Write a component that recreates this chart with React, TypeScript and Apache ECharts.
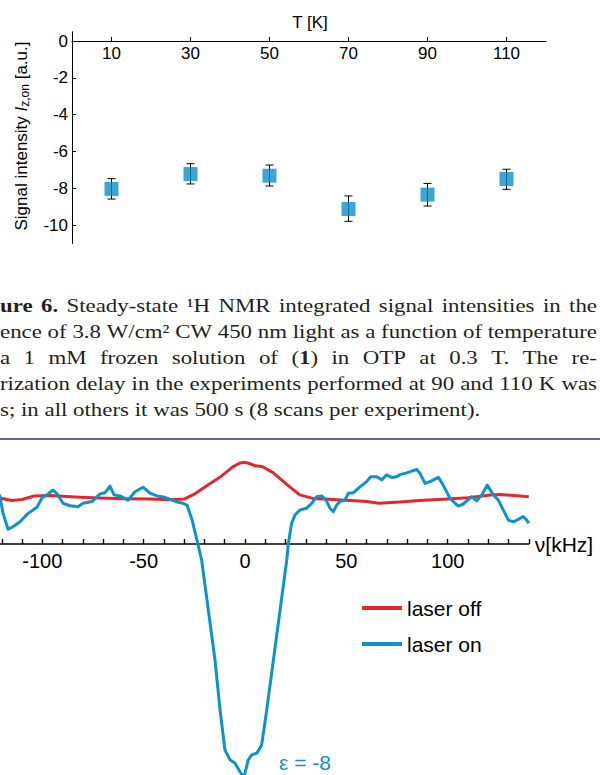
import React, { useEffect, useRef } from 'react';
import * as echarts from 'echarts';

// ---------- top panel: signal intensity vs temperature ----------
const temperatures = [10, 30, 50, 70, 90, 110];
const signalMean = [-8.04, -7.23, -7.32, -9.13, -8.35, -7.5];
const signalHigh = [-7.48, -6.67, -6.74, -8.42, -7.74, -6.97];
const signalLow = [-8.59, -7.77, -7.88, -9.8, -8.97, -8.06];
const tempTicks = [10, 30, 50, 70, 90, 110];
const intensityTicks = [-10, -8, -6, -4, -2, 0];

// ---------- caption ----------
const captionLines = [
  '**ure** **6.** Steady-state ¹H NMR integrated signal intensities in the',
  'ence of 3.8 W/cm² CW 450 nm light as a function of temperature',
  'a 1 mM frozen solution of (**1**) in OTP at 0.3 T. The re-',
  'rization delay in the experiments performed at 90 and 110 K was',
  's; in all others it was 500 s (8 scans per experiment).',
];
const captionJustified = [true, false, true, true, false];

// ---------- bottom panel: spectra ----------
const laserOffFreq = [-121, -115, -110, -104, -96, -84, -72, -59, -47, -37, -30, -25, -22, -17, -12, -6, -2.5, 0, 2.5, 5, 8.5, 14, 21, 27, 33.5, 43.5, 52, 60, 66, 76.5, 86, 100, 110, 121, 126, 140];
const laserOffSignal = [-0.03, -0.1, -0.07, 0.03, 0.04, 0.0, -0.03, -0.05, -0.06, -0.08, -0.06, 0.08, 0.2, 0.39, 0.58, 0.86, 0.97, 0.99, 0.95, 0.89, 0.87, 0.69, 0.34, 0.06, -0.04, -0.07, -0.1, -0.13, -0.18, -0.14, -0.1, -0.06, -0.02, 0.06, 0.07, 0.01];

const laserOnFreq = [-122, -120.9, -119.4, -116.9, -114.5, -111, -107.5, -104.6, -102.6, -100.1, -97.7, -94.7, -92.7, -89.8, -86.3, -82.4, -79.9, -75.5, -71.5, -69.1, -66.6, -64.6, -61.7, -57.7, -54.3, -50.3, -46.9, -43.4, -39.5, -36, -33.1, -30.6, -28.6, -26.1, -23.7, -21.4, -18.1, -14.8, -12.3, -9.9, -7.4, -4.9, -2.5, -0.7, 0, 1.6, 3.3, 5.8, 8.2, 10.7, 14, 17.3, 20.6, 21.4, 23, 24.7, 27.1, 30.4, 32.9, 35.4, 37.8, 40, 41.9, 43.6, 45.2, 46.9, 49.3, 51, 53.4, 56.7, 60, 62, 65, 67.4, 69.9, 72.4, 74.8, 76.5, 79.8, 84.7, 86.3, 88.8, 91.3, 95.4, 97.8, 101.1, 105.2, 107.7, 111.8, 114.3, 116.8, 119.5, 122.5, 125, 127.4, 129.9, 132.4, 134.8, 137.3, 139, 140];
const laserOnSignal = [0.15, 0.01, -0.46, -0.92, -0.85, -0.71, -0.49, -0.37, -0.29, -0.02, 0.06, 0.2, 0.09, -0.18, -0.25, -0.28, -0.18, -0.13, 0.09, 0.12, 0.31, 0.06, 0.03, -0.09, 0.15, 0.28, 0.11, 0.03, -0.01, -0.09, -0.15, -0.18, -0.23, -0.66, -1.23, -1.8, -3.23, -4.66, -6.09, -7.23, -7.51, -7.61, -7.85, -8.0, -7.89, -7.51, -7.37, -7.32, -7.09, -6.09, -4.66, -3.23, -1.8, -1.32, -0.75, -0.51, -0.37, -0.32, -0.18, 0.01, 0.03, -0.09, -0.32, -0.42, -0.23, -0.13, -0.09, 0.11, 0.12, 0.29, 0.44, 0.58, 0.58, 0.49, 0.63, 0.56, 0.58, 0.64, 0.69, 0.79, 0.68, 0.39, 0.44, 0.56, 0.34, -0.04, -0.26, -0.2, 0.01, -0.11, 0.06, 0.34, 0.06, -0.09, -0.37, -0.66, -0.71, -0.64, -0.56, -0.66, -0.75];
const enhancementLabel = 'ε = -8';

const SANS = 'Liberation Sans, Arial, Helvetica, sans-serif';
const SERIF = 'Liberation Serif, Times New Roman, serif';
const BLUE = '#0d93ca';
const RED = '#e4262d';
const SQUARE = '#0b8fc8';
const CAPTION_SIZE = 19;
const CAPTION_LEFT = 0;
const CAPTION_RIGHT = 597;
const CAPTION_Y = [306, 332, 358, 384, 410];

function buildCaption(): any[] {
  const canvas = document.createElement('canvas');
  const ctx = canvas.getContext('2d')!;
  const seg = (t: string, b: boolean) => {
    ctx.font = `${b ? 'bold ' : ''}${CAPTION_SIZE}px ${SERIF}`;
    return ctx.measureText(t).width;
  };
  const parse = (w: string) =>
    w.split('**').map((t, i) => ({ t, b: i % 2 === 1 })).filter((s) => s.t.length > 0);
  const wordW = (w: string) => parse(w).reduce((a, s) => a + seg(s.t, s.b), 0);
  const space = seg(' ', false);
  const natural = (line: string) => {
    const ws = line.split(' ');
    return ws.reduce((a, w) => a + wordW(w), 0) + space * (ws.length - 1);
  };
  const scale = (CAPTION_RIGHT - CAPTION_LEFT) / natural(captionLines[1]);
  const rich = {
    n: { fontFamily: SERIF, fontSize: CAPTION_SIZE, fontWeight: 'normal', color: '#231f20' },
    b: { fontFamily: SERIF, fontSize: CAPTION_SIZE, fontWeight: 'bold', color: '#231f20' },
  };
  const els: any[] = [];
  captionLines.forEach((line, li) => {
    const words = line.split(' ');
    const widths = words.map((w) => wordW(w) * scale);
    const total = widths.reduce((a, b) => a + b, 0);
    const gap = captionJustified[li]
      ? (CAPTION_RIGHT - CAPTION_LEFT - total) / (words.length - 1)
      : space * scale;
    let x = CAPTION_LEFT;
    words.forEach((w, wi) => {
      const text = parse(w).map((s) => `{${s.b ? 'b' : 'n'}|${s.t}}`).join('');
      els.push({
        type: 'text',
        x,
        y: CAPTION_Y[li],
        scaleX: scale,
        silent: true,
        style: {
          text,
          rich,
          fontFamily: SERIF,
          fontSize: CAPTION_SIZE,
          fill: '#231f20',
          align: 'left',
          verticalAlign: 'middle',
        },
      });
      x += widths[wi] + gap;
    });
  });
  return els;
}

function buildOption(): any {
  const scatterData = temperatures.map((t, i) => [t, signalMean[i]]);
  const errorData = temperatures.map((t, i) => [t, signalLow[i], signalHigh[i]]);
  const offData = laserOffFreq.map((f, i) => [f, laserOffSignal[i]]);
  const onData = laserOnFreq.map((f, i) => [f, laserOnSignal[i]]);

  return {
    animation: false,
    backgroundColor: '#ffffff',
    textStyle: { fontFamily: SANS },
    grid: [
      { left: 72, width: 474, top: 31.8, height: 211.6, outerBoundsMode: 'none', containLabel: false },
      { left: -18.5, width: 547.3, top: 427, height: 117, outerBoundsMode: 'none', containLabel: false },
    ],
    xAxis: [
      {
        gridIndex: 0,
        type: 'value',
        min: 0,
        max: 120,
        position: 'bottom',
        offset: -202.4,
        axisLine: { show: true, onZero: false, lineStyle: { color: '#000', width: 1 } },
        axisTick: { show: true, inside: true, length: 4, customValues: tempTicks, lineStyle: { color: '#000', width: 1 } },
        axisLabel: { customValues: tempTicks, margin: 4, fontSize: 17, color: '#000', fontFamily: SANS },
        splitLine: { show: false },
      },
      {
        gridIndex: 1,
        type: 'value',
        min: -130,
        max: 140,
        interval: 10,
        position: 'bottom',
        name: 'ν[kHz]',
        nameLocation: 'end',
        nameGap: 6,
        nameTextStyle: { fontSize: 21, color: '#000', fontFamily: SANS, padding: [5, 0, 0, 0] },
        axisLine: { show: true, onZero: false, lineStyle: { color: '#000', width: 1.6 } },
        axisTick: { show: true, inside: true, length: 5, interval: 0, lineStyle: { color: '#000', width: 1.4 } },
        axisLabel: {
          interval: 0,
          margin: 7,
          fontSize: 20,
          color: '#000',
          fontFamily: SANS,
          formatter: (v: number) => (v % 50 === 0 ? String(v) : ''),
        },
        splitLine: { show: false },
      },
    ],
    yAxis: [
      {
        gridIndex: 0,
        type: 'value',
        min: -11,
        max: 0.5,
        axisLine: { show: true, onZero: false, lineStyle: { color: '#000', width: 1 } },
        axisTick: { show: true, inside: true, length: 4, customValues: intensityTicks, lineStyle: { color: '#000', width: 1 } },
        axisLabel: { customValues: intensityTicks, margin: 4, fontSize: 17, color: '#000', fontFamily: SANS },
        splitLine: { show: false },
      },
      {
        gridIndex: 1,
        type: 'value',
        min: -1.343,
        max: 2,
        show: false,
        splitLine: { show: false },
      },
    ],
    legend: {
      data: ['laser off', 'laser on'],
      orient: 'vertical',
      left: 362,
      top: 596,
      padding: 0,
      icon: 'rect',
      itemWidth: 40,
      itemHeight: 4,
      itemGap: 12,
      textStyle: { fontSize: 21, color: '#000', fontFamily: SANS, lineHeight: 24 },
    },
    series: [
      {
        type: 'custom',
        name: 'error',
        xAxisIndex: 0,
        yAxisIndex: 0,
        z: 2,
        encode: { x: 0, y: [1, 2] },
        data: errorData,
        renderItem: (params: any, api: any) => {
          const x = api.value(0);
          const lo = api.coord([x, api.value(1)]);
          const hi = api.coord([x, api.value(2)]);
          const cap = 4;
          const st = { stroke: '#000', lineWidth: 1 };
          return {
            type: 'group',
            children: [
              { type: 'line', shape: { x1: lo[0], y1: lo[1], x2: hi[0], y2: hi[1] }, style: st },
              { type: 'line', shape: { x1: lo[0] - cap, y1: lo[1], x2: lo[0] + cap, y2: lo[1] }, style: st },
              { type: 'line', shape: { x1: hi[0] - cap, y1: hi[1], x2: hi[0] + cap, y2: hi[1] }, style: st },
            ],
          };
        },
      },
      {
        type: 'scatter',
        name: 'signal',
        xAxisIndex: 0,
        yAxisIndex: 0,
        z: 3,
        symbol: 'rect',
        symbolSize: 14,
        itemStyle: { color: SQUARE },
        data: scatterData,
      },
      {
        type: 'line',
        name: 'laser off',
        xAxisIndex: 1,
        yAxisIndex: 1,
        showSymbol: false,
        clip: false,
        color: RED,
        lineStyle: { color: RED, width: 3, join: 'round' },
        data: offData,
      },
      {
        type: 'line',
        name: 'laser on',
        xAxisIndex: 1,
        yAxisIndex: 1,
        showSymbol: false,
        clip: false,
        color: BLUE,
        lineStyle: { color: BLUE, width: 3, join: 'round' },
        data: onData,
      },
    ],
    graphic: [
      {
        type: 'text',
        x: 310,
        y: 22,
        silent: true,
        style: { text: 'T [K]', fontSize: 17, fontFamily: SANS, fill: '#000', align: 'center', verticalAlign: 'middle' },
      },
      {
        type: 'text',
        x: 21,
        y: 136,
        rotation: Math.PI / 2,
        silent: true,
        style: {
          text: '{a|Signal intensity }{i|I}{s|z,on}{a| [a.u.]}',
          align: 'center',
          verticalAlign: 'middle',
          fill: '#000',
          rich: {
            a: { fontSize: 17, fontFamily: SANS, color: '#000', lineHeight: 20 },
            i: { fontSize: 17, fontFamily: SANS, fontStyle: 'italic', color: '#000', lineHeight: 20 },
            s: { fontSize: 12, fontFamily: SANS, fontWeight: 'normal', color: '#000', lineHeight: 12, verticalAlign: 'bottom' },
          },
        },
      },
      {
        type: 'line',
        silent: true,
        shape: { x1: 0, y1: 439, x2: 600, y2: 439 },
        style: { stroke: '#27327a', lineWidth: 1.6 },
      },
      {
        type: 'text',
        x: 279,
        y: 762,
        silent: true,
        style: { text: enhancementLabel, fontSize: 21, fontFamily: SANS, fill: BLUE, align: 'left', verticalAlign: 'middle' },
      },
      ...buildCaption(),
    ],
  };
}

export default function App() {
  const ref = useRef<HTMLDivElement>(null);
  useEffect(() => {
    document.body.style.margin = '0';
    const chart = echarts.init(ref.current!, null, { renderer: 'svg' });
    chart.setOption(buildOption());
    return () => chart.dispose();
  }, []);
  return (
    <div
      ref={ref}
      style={{ position: 'absolute', left: 0, top: 0, width: 600, height: 775, background: '#fff' }}
    />
  );
}
